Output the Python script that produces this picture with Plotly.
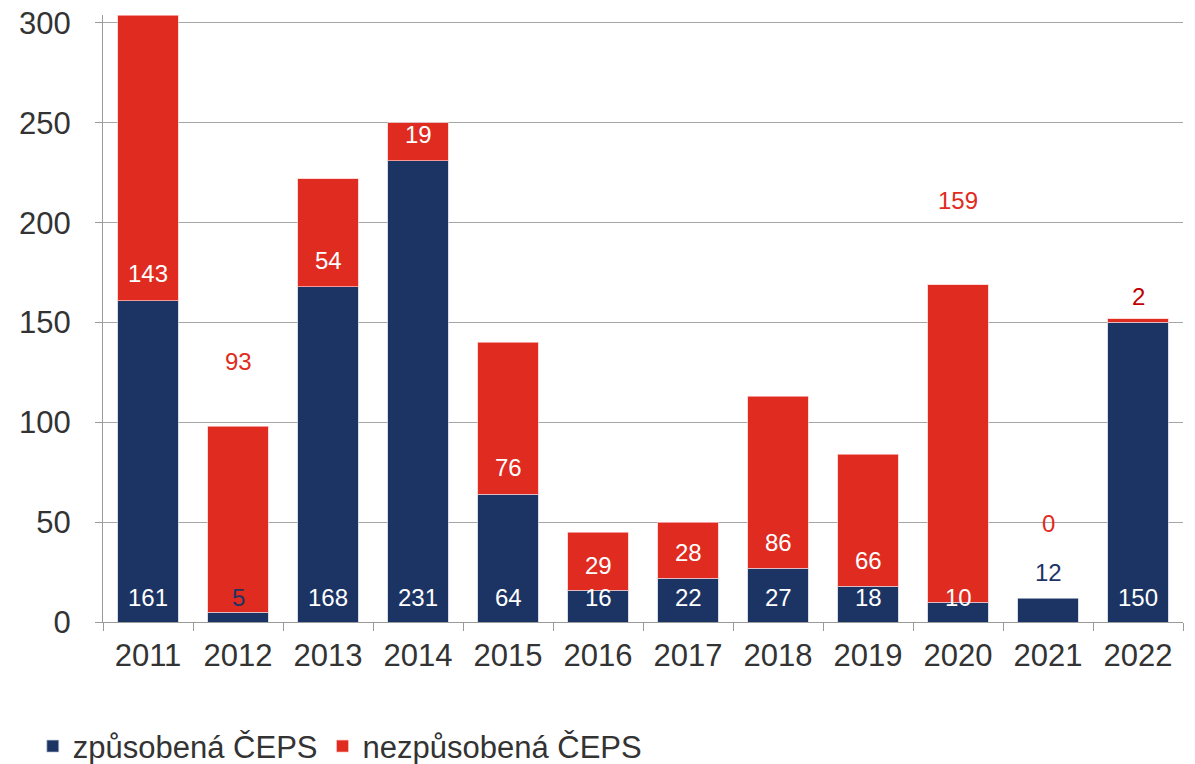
import plotly.graph_objects as go

years = ["2011", "2012", "2013", "2014", "2015", "2016", "2017", "2018", "2019", "2020", "2021", "2022"]
caused = [161, 5, 168, 231, 64, 16, 22, 27, 18, 10, 12, 150]
not_caused = [143, 93, 54, 19, 76, 29, 28, 86, 66, 159, 0, 2]

NAVY = "#1c3464"
RED = "#e02b20"
FONT = "Liberation Sans, Arial, sans-serif"

# label placement style: anchor "in" = inside at base, "top" = above bar top; shift in px
blue_anchor = ["in", "in", "in", "in", "in", "in", "in", "in", "in", "in", "top", "in"]
blue_color = ["white", NAVY, "white", "white", "white", "white", "white", "white", "white", "white", NAVY, "white"]
red_anchor = ["in", "top", "in", "in", "in", "in", "in", "in", "in", "top", "top", "in"]
red_shift = [27, 65, 26, 26, 27, 25, 26, 26, 26, 84, 75, 26]
red_color = ["white", RED, "white", "white", "white", "white", "white", "white", "white", RED, RED, "#c00000"]

fig = go.Figure()
fig.add_trace(go.Bar(x=years, y=caused, name="způsobená ČEPS",
                     marker=dict(color=NAVY, line=dict(color="rgba(200,205,220,0.7)", width=1))))
fig.add_trace(go.Bar(x=years, y=not_caused, name="nezpůsobená ČEPS",
                     marker=dict(color=RED, line=dict(color="rgba(255,200,200,0.7)",
                                                      width=[1 if v > 0 else 0 for v in not_caused]))))

ann = []
for i, yr in enumerate(years):
    total = caused[i] + not_caused[i]
    if blue_anchor[i] == "in":
        by, bs = 0, 25
    else:
        by, bs = caused[i], 26
    ann.append(dict(x=i, y=by, yshift=bs, text=str(caused[i]), showarrow=False,
                    yanchor="middle", font=dict(family=FONT, size=24, color=blue_color[i])))
    ry = caused[i] if red_anchor[i] == "in" else total
    ann.append(dict(x=i, y=ry, yshift=red_shift[i], text=str(not_caused[i]), showarrow=False,
                    yanchor="middle", font=dict(family=FONT, size=24, color=red_color[i])))

fig.update_layout(
    barmode="stack",
    bargap=0.333,
    width=1195, height=764,
    margin=dict(l=103, r=12, t=15, b=142, autoexpand=False),
    plot_bgcolor="white", paper_bgcolor="white",
    font=dict(family=FONT, size=31, color="#333333"),
    annotations=ann,
    legend=dict(orientation="h", x=-0.065, xref="paper", y=-0.205, yanchor="middle",
                xanchor="left", font=dict(size=31, color="#333333"),
                itemwidth=30, tracegroupgap=0, traceorder="normal"),
    showlegend=True,
)
fig.update_xaxes(type="category", showline=True, linecolor="#9a9a9a", linewidth=1, ticks="outside",
                 tickson="boundaries", ticklen=8, tickcolor="#9a9a9a", tickangle=0,
                 ticklabelstandoff=6,
                 tickfont=dict(size=31, color="#333333"), showgrid=False)
fig.update_yaxes(range=[0, 304], tickvals=[0, 50, 100, 150, 200, 250, 300], showline=True,
                 linecolor="#9a9a9a", linewidth=1, ticks="outside", ticklen=7, tickcolor="#9a9a9a",
                 ticklabelstandoff=18,
                 showgrid=True, gridcolor="#a6a6a6", gridwidth=1, zeroline=False,
                 tickfont=dict(size=31, color="#333333"))

fig.write_html("out.html", config={"displayModeBar": False},
               post_script="document.body.style.margin='0';document.body.style.overflow='hidden';")
